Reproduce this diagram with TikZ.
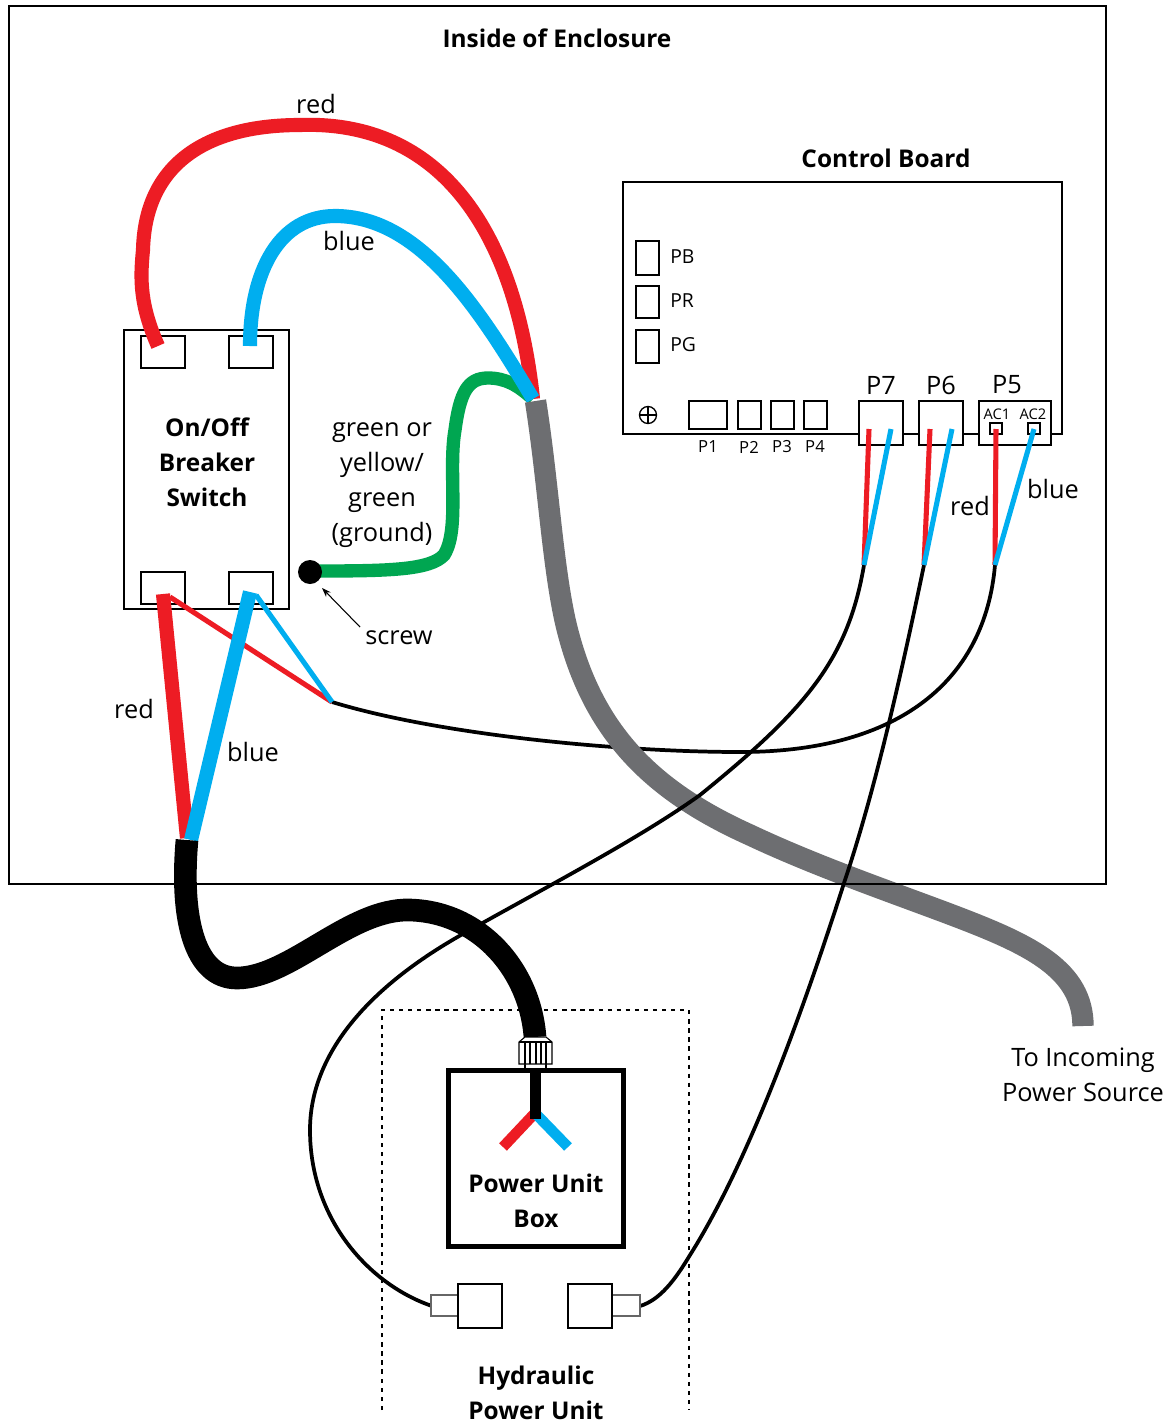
\documentclass[tikz,border=0pt]{standalone}
\usepackage{fontspec}
\setmainfont{Open Sans}
\usetikzlibrary{arrows.meta}
\definecolor{wred}{RGB}{237,28,36}
\definecolor{wblue}{RGB}{0,174,239}
\definecolor{wgreen}{RGB}{0,166,81}
\definecolor{wgrey}{RGB}{109,110,113}
\tikzset{
  lab/.style={font=\fontsize{19}{26.2}\selectfont,align=center,inner sep=0pt},
  blab/.style={font=\fontsize{18.3}{26.2}\selectfont\bfseries,align=center,inner sep=0pt},
  slab/.style={font=\fontsize{12.5}{14}\selectfont,inner sep=0pt},
  mlab/.style={font=\fontsize{14.5}{17}\selectfont,inner sep=0pt},
  tiny/.style={font=\fontsize{11}{12}\selectfont,inner sep=0pt},
  box/.style={draw=black,line width=1.6pt,fill=white},
  pbox/.style={draw=black,line width=1.5pt,fill=white},
  fine wire/.style={line width=3.8pt,line cap=butt},
  big wire/.style={line width=10.6pt,line cap=butt},
  sig wire/.style={black,line width=2.8pt,line cap=butt},
  cable/.style={line width=16pt,line cap=butt},
  thick cable/.style={line width=17pt,line cap=butt},
}
\begin{document}
\begin{tikzpicture}[x=0.75pt,y=-0.75pt]
\useasboundingbox (0,0) rectangle (1176,1424);
\fill[white] (0,0) rectangle (1176,1424);
\coordinate (split) at (332,702);
\coordinate (j7) at (864,565);
\coordinate (j6) at (924,565);
\coordinate (j5) at (995,565);
\coordinate (hub) at (533,399);
\coordinate (low) at (187,840);
\coordinate (gtop) at (535.5,401);
\coordinate (gend) at (1083,1026);
% breaker
\node[draw=black,line width=1.6pt,minimum width=165*0.75pt,minimum height=279*0.75pt,inner sep=0pt,outer sep=0pt,anchor=north west] (brk) at (124,330) {};
\node[blab] (brkt) at (207,462) {On/Off\\Breaker\\Switch};
\foreach \a/\b in {141/336,229/336,141/572,229/572}{
  \draw[box] (\a,\b) rectangle +(44,32);
}
% black wire under grey
\draw[sig wire] (j5) .. controls (985,680) and (900,752) .. (740,752) .. controls (620,752) and (440,735) .. (split);
% upper wires
\draw[wred,big wire] (158,346) .. controls (140,305) and (140,280) .. (143,250) .. controls (145,165) and (205,125) .. (300,125) .. controls (440,120) and (515,230) .. (hub);
\draw[wgreen,line width=10pt,line cap=butt] (316,571) .. controls (390,571) and (430,570) .. (444,555) .. controls (460,530) and (448,470) .. (455,430) .. controls (460,392) and (468,378) .. (488,378) .. controls (505,378) and (518,385) .. (hub);
\draw[wblue,big wire] (250,346) .. controls (250,270) and (280,216) .. (335,216) .. controls (420,216) and (480,310) .. (hub);
% grey cable
\draw[wgrey,cable] (gtop) .. controls (548,480) and (552,560) .. (565,620) .. controls (590,730) and (650,790) .. (750,835) .. controls (820,868) and (900,895) .. (960,918) .. controls (1030,945) and (1083,970) .. (gend);
% enclosure
\node[draw=black,line width=1.7pt,minimum width=1097*0.75pt,minimum height=878*0.75pt,inner sep=0pt,outer sep=0pt,anchor=north west] (encl) at (9,6) {};
\node[blab] (ttl) at (557,38) {Inside of Enclosure};
% black wires over grey
\draw[sig wire] (j7) .. controls (848,660) and (805,710) .. (700,795) .. controls (640,838) and (550,885) .. (470,930) .. controls (360,990) and (310,1060) .. (310,1130) .. controls (310,1220) and (370,1285) .. (432,1306);
\draw[sig wire] (j6) .. controls (900,680) and (875,790) .. (845,880) .. controls (805,1005) and (750,1160) .. (690,1255) .. controls (675,1280) and (660,1300) .. (640,1306);
% control board
\node[blab] (cbt) at (886,158) {Control Board};
\coordinate (bd1) at (623,182);
\draw[line width=1.6pt] (1051,434) -- (1062,434) -- (1062,182) -- (bd1) -- (623,434) -- (860,434);
\draw[line width=1.6pt] (903,434) -- (919,434) (963,434) -- (979,434);
\foreach \a/\b/\c/\d in {636/241/659/275,636/286/659/318,636/330/659/363,689/401/727/429,738/401/761/429,771/401/794/429,804/401/827/429,859/401/903/445,919/401/963/445,979/401/1051/445,990/423/1002/434,1028/423/1040/434}{
  \draw[pbox] (\a,\b) rectangle (\c,\d);
}
\node[mlab,anchor=west] (tpb) at (670,257) {PB};
\node[mlab,anchor=west] (tpr) at (670,301) {PR};
\node[mlab,anchor=west] (tpg) at (670,345) {PG};
\node[slab] (tp1) at (708,447) {P1};
\node[slab] (tp2) at (749,447) {P2};
\node[slab] (tp3) at (782,447) {P3};
\node[slab] (tp4) at (815,447) {P4};
\node[lab] (tp7) at (881,385) {P7};
\node[lab] (tp6) at (941,385) {P6};
\node[lab] (tp5) at (1007,385) {P5};
\node[tiny] (tac1) at (997,414) {AC1};
\node[tiny] (tac2) at (1033,414) {AC2};
\node[draw=black,line width=1pt,circle,minimum size=17*0.75pt,inner sep=0pt] (gnd) at (648,415) {};
\draw[line width=0.9pt] (gnd.west) -- (gnd.east) (gnd.north) -- (gnd.south);
% screw and labels
\node[circle,fill=black,minimum size=24*0.75pt,inner sep=0pt] (scr) at (310,572) {};
\node[lab] (tscr) at (399,638) {screw};
\coordinate (atip) at (322,588);
\coordinate (atail) at (360,627);
\draw[-{Stealth[length=7pt,width=5pt]},line width=0.8pt] (atail) -- (atip);
\node[lab] (tgnd) at (382,485) {green or\\yellow/\\green\\(ground)};
\node[lab] (tr1) at (316,104) {red};
\node[lab] (tb1) at (349,241) {blue};
\node[lab] (tr2) at (134,709) {red};
\node[lab] (tb2) at (253,752) {blue};
\node[lab] (tr3) at (970,506) {red};
\node[lab] (tb3) at (1053,489) {blue};
% lower fan
\draw[wred,big wire] (163,594) -- (187,838);
\draw[wred,fine wire] (170,597) -- (split);
\draw[wblue,fine wire] (256,595) -- (split);
\draw[wblue,big wire] (250,592) -- (191,840);
% board wires
\draw[wred,fine wire] (869,429) -- (j7);
\draw[wblue,fine wire] (891,429) -- (j7);
\draw[wred,fine wire] (930,429) -- (j6);
\draw[wblue,fine wire] (952,429) -- (j6);
\draw[wred,fine wire] (996,429) -- (j5);
\draw[wblue,fine wire] (1034,429) -- (j5);
% dotted
\draw[line width=1.6pt,dash pattern=on 3.2pt off 3.6pt] (382,1410) -- (382,1010) -- (689,1010) -- (689,1410);
% black cable
\draw[black,thick cable] (low) .. controls (180,920) and (195,978) .. (237,978) .. controls (290,978) and (350,908) .. (410,910) .. controls (480,912) and (530,970) .. (535,1037);
% power unit
\node[draw=black,line width=3.75pt,fill=white,minimum width=175.5*0.75pt,minimum height=176*0.75pt,inner sep=0pt,outer sep=0pt,anchor=north west] (pub) at (448,1070) {};
\node[blab] (pubt) at (536,1201) {Power Unit\\Box};
\draw[wred,line width=8pt,line cap=butt] (535,1113) -- (503,1147);
\draw[wblue,line width=8pt,line cap=butt] (535,1113) -- (568,1147);
\draw[black,line width=8.25pt] (535,1068) -- (535,1119);
% nut
\draw[line width=0.8pt] (525,1064) -- (525,1070) (546,1064) -- (546,1070);
\draw[line width=0.8pt,fill=white] (519,1064) -- (519,1042) -- (525,1037) -- (546,1037) -- (552,1042) -- (552,1064) -- cycle;
\draw[line width=0.8pt] (519,1042) -- (552,1042);
\foreach \x in {525,530,536,541,546}{\draw[line width=0.8pt] (\x,1042) -- (\x,1064);}
% hydraulic connectors
\draw[draw=black!60,line width=1pt,fill=white] (431,1295) rectangle (458,1316);
\draw[draw=black!60,line width=1pt,fill=white] (612,1295) rectangle (640,1316);
\draw[box] (458,1284) rectangle (502,1328);
\draw[box] (568,1284) rectangle (612,1328);
\node[blab] (hyd) at (536,1393) {Hydraulic\\Power Unit};
\node[lab] (src) at (1083,1075) {To Incoming\\Power Source};
\end{tikzpicture}
\end{document}
